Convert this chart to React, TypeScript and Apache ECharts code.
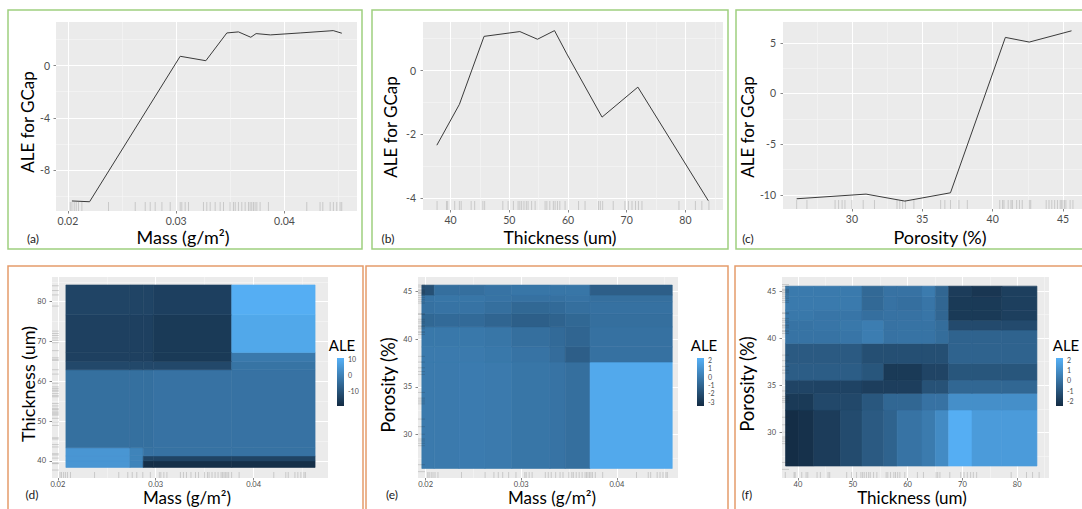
import React, { useEffect, useRef } from "react";
import * as echarts from "echarts";

const FONT = "Lato";
const LOW = "#132B43";
const HIGH = "#56B1F7";
const GREEN = "#9fd07f";
const ORANGE = "#e59c6b";

// ---------- (a) ALE for GCap vs Mass ----------
const massLineX = [0.02037, 0.0220, 0.03037, 0.03274, 0.03468, 0.03575, 0.03689, 0.03738, 0.0387, 0.04145, 0.0442, 0.0445, 0.0453];
const massLineY = [-10.38, -10.44, 0.72, 0.38, 2.51, 2.59, 2.18, 2.46, 2.36, 2.51, 2.67, 2.69, 2.49];
// ---------- (b) ALE for GCap vs Thickness ----------
const thickLineX = [37.66, 41.5, 45.7, 51.8, 54.8, 57.7, 59.8, 65.8, 71.9, 83.9];
const thickLineY = [-2.34, -1.06, 1.07, 1.22, 0.98, 1.25, 0.52, -1.46, -0.52, -4.08];
// ---------- (c) ALE for GCap vs Porosity ----------
const poroLineX = [26.07, 31.0, 33.76, 37.0, 40.9, 42.6, 45.6];
const poroLineY = [-10.39, -9.93, -10.62, -9.8, 5.53, 5.07, 6.18];

// ---------- rug (observed sample values) ----------
const massRug = [0.02022, 0.02037, 0.02058, 0.02077, 0.02098, 0.02129, 0.02375, 0.02622, 0.02714, 0.0276, 0.02806, 0.02868, 0.02945, 0.03037, 0.03052, 0.03083, 0.03114, 0.03252, 0.03283, 0.03314, 0.0336, 0.03406, 0.03437, 0.03498, 0.03529, 0.03545, 0.03575, 0.03606, 0.03637, 0.03668, 0.03683, 0.03698, 0.03714, 0.03729, 0.03745, 0.03775, 0.03852, 0.04206, 0.04329, 0.04354, 0.04422, 0.04452, 0.04483, 0.04514, 0.04529];
const thickRug = [37.7, 39.3, 39.5, 40.7, 41.5, 41.8, 43.5, 44.1, 45.5, 45.8, 48.9, 49.8, 50.7, 51.5, 51.8, 52.1, 52.5, 52.9, 53.2, 53.8, 54.4, 56.1, 56.4, 56.9, 57.5, 57.8, 58.2, 58.6, 59.5, 61.8, 62.9, 65.2, 65.5, 65.9, 67.7, 69.7, 70.3, 70.9, 71.5, 72.0, 72.6, 78.9, 81.7, 82.8, 84.0];
const poroRug = [26.07, 26.8, 28.8, 29.05, 29.3, 29.5, 30.0, 30.8, 31.6, 33.2, 33.4, 33.6, 33.8, 34.4, 36.3, 36.6, 37.0, 37.6, 38.2, 40.5, 40.7, 40.8, 41.1, 41.3, 41.4, 41.7, 41.9, 42.1, 42.6, 42.7, 43.8, 44.0, 44.2, 44.4, 44.6, 44.8, 44.9, 45.0, 45.1, 45.2, 45.5, 45.7];

// ---------- (d) 2D ALE: Mass x Thickness ----------
const dMassEdges = [0.02082, 0.02736, 0.02872, 0.02975, 0.03776, 0.04628];
const dThickEdges = [38.35, 40, 41.25, 43.3, 62.9, 65, 67.25, 76.7, 84.2];
const dAle = [
  [4.6, 0.4, -18.6, -18.6, -18.6],
  [4.6, 0.4, -13.8, -13.8, -13.8],
  [4.6, 0.4, -3.5, -3.5, -3.5],
  [-4.1, -4.1, -4.1, -3.5, -3.5],
  [-12.9, -12.9, -12.9, -12.9, -3.2],
  [-14.7, -14.7, -14.7, -16.2, -2.0],
  [-14.7, -14.7, -14.7, -16.2, 8.5],
  [-13.8, -13.8, -13.8, -14.9, 10.0],
];
// ---------- (e) 2D ALE: Mass x Porosity ----------
const eMassEdges = [0.0196, 0.0209, 0.0235, 0.0262, 0.029, 0.033, 0.0346, 0.0372, 0.0458];
const ePoroEdges = [26.4, 37.6, 39.2, 41.3, 42.7, 43.95, 44.65, 45.7];
const eAle = [
  [-0.1, -0.1, -0.05, -0.1, -0.3, -0.4, -0.6, 1.9],
  [-0.1, -0.1, -0.1, -0.2, -0.4, -0.7, -1.3, -0.5],
  [-0.2, -0.2, -0.2, -0.3, -0.6, -0.8, -1.0, -0.5],
  [-0.9, -0.8, -0.8, -1.0, -1.25, -1.1, -0.9, -0.6],
  [-0.5, -0.4, -0.4, -0.6, -0.9, -0.8, -0.6, -0.5],
  [-0.4, -0.3, -0.3, -0.4, -0.5, -0.5, -0.4, -0.6],
  [-1.9, -0.6, -0.6, -0.4, -0.3, -0.3, -0.3, -1.3],
];
// ---------- (f) 2D ALE: Thickness x Porosity ----------
const fThickEdges = [37.74, 40.18, 42.9, 47.77, 51.7, 55.66, 58.09, 62.64, 65.07, 67.5, 71.75, 77.2, 83.6];
const fPoroEdges = [26.42, 32.37, 34.14, 35.55, 37.32, 39.45, 40.86, 41.92, 42.98, 44.4, 45.53];
const fAle = [
  [-2.43, -2.3, -1.9, -1.38, -0.85, -0.54, 0.03, 0.3, 0.86, 2.1, 1.43, 1.43],
  [-1.98, -1.98, -1.48, -1.48, -0.96, -0.4, -0.4, 0.0, 0.0, 1.0, 1.0, 1.0],
  [-1.62, -1.62, -1.65, -1.65, -1.83, -1.83, -1.83, -1.13, -1.13, -0.4, -0.4, -0.4],
  [-0.75, -0.75, -0.75, -0.75, -1.0, -1.98, -1.98, -1.62, -1.62, -1.0, -1.0, -1.0],
  [-0.85, -0.85, -0.85, -0.85, -1.24, -1.24, -1.24, -1.24, -1.24, -0.54, -0.54, -0.54],
  [0.03, 0.03, 0.03, 0.1, 0.37, 0.0, 0.03, 0.03, -0.2, -0.54, -0.54, -0.54],
  [0.03, 0.03, 0.1, 0.2, 0.37, 0.0, 0.03, 0.03, -0.2, -1.41, -1.41, -1.41],
  [0.2, 0.2, 0.1, 0.1, -0.1, 0.0, 0.0, 0.1, -0.43, -1.98, -1.98, -1.8],
  [0.27, 0.27, 0.27, 0.27, -0.33, 0.0, -0.1, 0.1, -0.43, -1.98, -1.98, -1.8],
  [0.27, 0.27, 0.27, 0.27, -0.33, 0.0, 0.0, 0.3, -0.43, -1.9, -2.1, -1.8],
];

// ---------- ticks ----------
const massTicks = [0.02, 0.03, 0.04];
const massMinor = [0.025, 0.035, 0.045];
const thickTicks = [40, 50, 60, 70, 80];
const thickMinor = [45, 55, 65, 75, 85];
const poroTicks = [30, 35, 40, 45];
const poroMinor = [27.5, 32.5, 37.5, 42.5];
const aleATicks = [-8, -4, 0];
const aleAMinor = [-10, -6, -2, 2];
const aleBTicks = [-4, -2, 0];
const aleBMinor = [-3, -1, 1];
const aleCTicks = [-10, -5, 0, 5];
const aleCMinor = [-7.5, -2.5, 2.5];
const legDTicks = [-10, 0, 10];
const legETicks = [-3, -2, -1, 0, 1, 2];
const legFTicks = [-2, -1, 0, 1, 2];
const legDRange = [-19.5, 10.6];
const legERange = [-3.5, 2.25];
const legFRange = [-2.5, 2.2];

// ---------- titles ----------
const T_MASS = "Mass (g/m²)";
const T_THICK = "Thickness (um)";
const T_PORO = "Porosity (%)";
const T_ALE = "ALE for GCap";
const T_LEG = "ALE";
const panelTags = ["(a)", "(b)", "(c)", "(d)", "(e)", "(f)"];

const zip = (xs: number[], ys: number[]) => xs.map((x, i) => [x, ys[i]]);
const cells = (xe: number[], ye: number[], vals: number[][]) => {
  const out: number[][] = [];
  for (let r = 0; r < ye.length - 1; r++)
    for (let c = 0; c < xe.length - 1; c++) out.push([xe[c], xe[c + 1], ye[r], ye[r + 1], vals[r][c]]);
  return out;
};
const fmtMass = (v: number) => v.toFixed(2);
const fmtNum = (v: number) => String(v);

type AxSpec = {
  grid: number; min: number; max: number; major: number[]; minor: number[];
  fmt: (v: number) => string; font: number; margin: number;
};

function makeAxes(s: AxSpec, dir: "x" | "y") {
  const main = dir === "x" ? "bottom" : "left";
  const other = dir === "x" ? "top" : "right";
  return [
    {
      type: "value", gridIndex: s.grid, min: s.min, max: s.max, position: main,
      axisLine: { show: false, onZero: false },
      axisTick: { show: true, customValues: s.major, length: 2.5, lineStyle: { color: "#555", width: 0.7 } },
      axisLabel: { show: true, customValues: s.major, formatter: s.fmt, fontSize: s.font, color: "#4d4d4d", margin: s.margin, fontFamily: FONT },
      splitLine: { show: true, lineStyle: { color: "#ffffff", width: 1.1 } },
    },
    {
      type: "value", gridIndex: s.grid, min: s.min, max: s.max, position: other,
      axisLine: { show: false, onZero: false },
      axisTick: { show: false, customValues: s.minor },
      axisLabel: { show: false, customValues: s.minor },
      splitLine: { show: true, lineStyle: { color: "#f7f7f7", width: 0.6 } },
    },
  ];
}

const heatRender = (params: any, api: any) => {
  const p0 = api.coord([api.value(0), api.value(2)]);
  const p1 = api.coord([api.value(1), api.value(3)]);
  const color = api.visual("color");
  return {
    type: "rect",
    shape: { x: p0[0], y: p1[1], width: p1[0] - p0[0], height: p0[1] - p1[1] },
    style: { fill: color, stroke: color, lineWidth: 0.6 },
  };
};
const rugXRender = (len: number) => (params: any, api: any) => {
  const cs = params.coordSys;
  const x = api.coord([api.value(0), api.value(1)])[0];
  const yb = cs.y + cs.height;
  return { type: "line", shape: { x1: x, y1: yb, x2: x, y2: yb - len }, style: { stroke: "rgba(40,40,40,0.25)", lineWidth: 0.7 } };
};
const rugYRender = (len: number) => (params: any, api: any) => {
  const cs = params.coordSys;
  const y = api.coord([api.value(0), api.value(1)])[1];
  return { type: "line", shape: { x1: cs.x, y1: y, x2: cs.x + len, y2: y }, style: { stroke: "rgba(40,40,40,0.25)", lineWidth: 0.7 } };
};
const barRender = (params: any) => {
  const cs = params.coordSys;
  return {
    type: "rect",
    shape: { x: cs.x, y: cs.y, width: cs.width, height: cs.height },
    style: { fill: new echarts.graphic.LinearGradient(0, 0, 0, 1, [{ offset: 0, color: HIGH }, { offset: 1, color: LOW }]) },
  };
};

function buildOption() {
  const gridBase = { show: true, backgroundColor: "#EBEBEB", borderWidth: 0, containLabel: false, outerBoundsMode: "none" };
  const grids = [
    { ...gridBase, left: 56, top: 22, width: 301, height: 189 },
    { ...gridBase, left: 423, top: 22, width: 300, height: 188 },
    { ...gridBase, left: 783, top: 22, width: 304, height: 187 },
    { ...gridBase, left: 52, top: 277, width: 276, height: 201 },
    { ...gridBase, left: 418, top: 277, width: 260, height: 201 },
    { ...gridBase, left: 782, top: 277, width: 267, height: 201 },
    { show: false, left: 337, top: 358, width: 7, height: 48, containLabel: false, outerBoundsMode: "none" },
    { show: false, left: 697, top: 358, width: 7, height: 48, containLabel: false, outerBoundsMode: "none" },
    { show: false, left: 1056, top: 358, width: 7, height: 48, containLabel: false, outerBoundsMode: "none" },
  ];

  const xSpecs: AxSpec[] = [
    { grid: 0, min: 0.0189, max: 0.0467, major: massTicks, minor: massMinor, fmt: fmtMass, font: 10.5, margin: 4 },
    { grid: 1, min: 35.3, max: 86.4, major: thickTicks, minor: thickMinor, fmt: fmtNum, font: 10.5, margin: 4 },
    { grid: 2, min: 25.1, max: 46.7, major: poroTicks, minor: poroMinor, fmt: fmtNum, font: 10.5, margin: 4 },
    { grid: 3, min: 0.0194, max: 0.0476, major: massTicks, minor: massMinor, fmt: fmtMass, font: 7.5, margin: 2 },
    { grid: 4, min: 0.0192, max: 0.0464, major: massTicks, minor: massMinor, fmt: fmtMass, font: 7.5, margin: 2 },
    { grid: 5, min: 37.1, max: 85.8, major: thickTicks, minor: thickMinor, fmt: fmtNum, font: 7.5, margin: 2 },
  ];
  const ySpecs: AxSpec[] = [
    { grid: 0, min: -11.15, max: 3.35, major: aleATicks, minor: aleAMinor, fmt: fmtNum, font: 10.5, margin: 6 },
    { grid: 1, min: -4.37, max: 1.52, major: aleBTicks, minor: aleBMinor, fmt: fmtNum, font: 10.5, margin: 7 },
    { grid: 2, min: -11.4, max: 7.05, major: aleCTicks, minor: aleCMinor, fmt: fmtNum, font: 10.5, margin: 7 },
    { grid: 3, min: 35.7, max: 86.2, major: thickTicks, minor: thickMinor, fmt: fmtNum, font: 7.5, margin: 6 },
    { grid: 4, min: 25.4, max: 46.55, major: poroTicks, minor: poroMinor, fmt: fmtNum, font: 7.5, margin: 6 },
    { grid: 5, min: 25.15, max: 46.5, major: poroTicks, minor: poroMinor, fmt: fmtNum, font: 7.5, margin: 6 },
  ];

  const xAxis: any[] = [];
  const yAxis: any[] = [];
  xSpecs.forEach((s) => xAxis.push(...makeAxes(s, "x")));
  ySpecs.forEach((s) => yAxis.push(...makeAxes(s, "y")));

  const legs = [
    { grid: 6, range: legDRange, ticks: legDTicks },
    { grid: 7, range: legERange, ticks: legETicks },
    { grid: 8, range: legFRange, ticks: legFTicks },
  ];
  legs.forEach((l) => {
    xAxis.push({ type: "value", gridIndex: l.grid, min: 0, max: 1, show: false });
    yAxis.push({
      type: "value", gridIndex: l.grid, min: l.range[0], max: l.range[1], position: "right",
      axisLine: { show: false, onZero: false }, splitLine: { show: false },
      axisTick: { show: false, customValues: l.ticks },
      axisLabel: { show: true, customValues: l.ticks, formatter: fmtNum, fontSize: 7, color: "#4d4d4d", margin: 4, fontFamily: FONT },
    });
  });

  const series: any[] = [];
  // rugs on line panels (0-2)
  series.push({ type: "custom", xAxisIndex: 0, yAxisIndex: 0, data: massRug.map((v) => [v, 0]), encode: { x: 0, y: 1 }, renderItem: rugXRender(9) });
  series.push({ type: "custom", xAxisIndex: 2, yAxisIndex: 2, data: thickRug.map((v) => [v, 0]), encode: { x: 0, y: 1 }, renderItem: rugXRender(9) });
  series.push({ type: "custom", xAxisIndex: 4, yAxisIndex: 4, data: poroRug.map((v) => [v, 0]), encode: { x: 0, y: 1 }, renderItem: rugXRender(9) });
  // lines (3-5)
  const lineStyle = { color: "#3a3a3a", width: 1 };
  series.push({ type: "line", xAxisIndex: 0, yAxisIndex: 0, data: zip(massLineX, massLineY), showSymbol: false, symbol: "none", lineStyle });
  series.push({ type: "line", xAxisIndex: 2, yAxisIndex: 2, data: zip(thickLineX, thickLineY), showSymbol: false, symbol: "none", lineStyle });
  series.push({ type: "line", xAxisIndex: 4, yAxisIndex: 4, data: zip(poroLineX, poroLineY), showSymbol: false, symbol: "none", lineStyle });
  // heatmaps (6-8)
  series.push({ type: "custom", xAxisIndex: 6, yAxisIndex: 6, data: cells(dMassEdges, dThickEdges, dAle), encode: { x: [0, 1], y: [2, 3] }, renderItem: heatRender });
  series.push({ type: "custom", xAxisIndex: 8, yAxisIndex: 8, data: cells(eMassEdges, ePoroEdges, eAle), encode: { x: [0, 1], y: [2, 3] }, renderItem: heatRender });
  series.push({ type: "custom", xAxisIndex: 10, yAxisIndex: 10, data: cells(fThickEdges, fPoroEdges, fAle), encode: { x: [0, 1], y: [2, 3] }, renderItem: heatRender });
  // heatmap rugs (9-14)
  series.push({ type: "custom", xAxisIndex: 6, yAxisIndex: 6, data: massRug.map((v) => [v, 60]), encode: { x: 0, y: 1 }, renderItem: rugXRender(6) });
  series.push({ type: "custom", xAxisIndex: 6, yAxisIndex: 6, data: thickRug.map((v) => [0.03, v]), encode: { x: 0, y: 1 }, renderItem: rugYRender(7) });
  series.push({ type: "custom", xAxisIndex: 8, yAxisIndex: 8, data: massRug.map((v) => [v, 35]), encode: { x: 0, y: 1 }, renderItem: rugXRender(6) });
  series.push({ type: "custom", xAxisIndex: 8, yAxisIndex: 8, data: poroRug.map((v) => [0.03, v]), encode: { x: 0, y: 1 }, renderItem: rugYRender(7) });
  series.push({ type: "custom", xAxisIndex: 10, yAxisIndex: 10, data: thickRug.map((v) => [v, 35]), encode: { x: 0, y: 1 }, renderItem: rugXRender(6) });
  series.push({ type: "custom", xAxisIndex: 10, yAxisIndex: 10, data: poroRug.map((v) => [60, v]), encode: { x: 0, y: 1 }, renderItem: rugYRender(7) });
  // colour bars (15-17)
  series.push({ type: "custom", xAxisIndex: 12, yAxisIndex: 12, data: [[0.5, 0]], renderItem: barRender });
  series.push({ type: "custom", xAxisIndex: 13, yAxisIndex: 13, data: [[0.5, 0]], renderItem: barRender });
  series.push({ type: "custom", xAxisIndex: 14, yAxisIndex: 14, data: [[0.5, 0]], renderItem: barRender });

  const visualMap = [
    { type: "continuous", show: false, seriesIndex: 6, dimension: 4, min: legDRange[0], max: legDRange[1], inRange: { color: [LOW, HIGH] } },
    { type: "continuous", show: false, seriesIndex: 7, dimension: 4, min: legERange[0], max: legERange[1], inRange: { color: [LOW, HIGH] } },
    { type: "continuous", show: false, seriesIndex: 8, dimension: 4, min: legFRange[0], max: legFRange[1], inRange: { color: [LOW, HIGH] } },
  ];

  const border = (x: number, y: number, w: number, h: number, c: string) => ({
    type: "rect", silent: true, z: 100, shape: { x, y, width: w, height: h }, style: { fill: "none", stroke: c, lineWidth: 1.5 },
  });
  const label = (x: number, y: number, t: string, size: number, rot = 0, color = "#1a1a1a") => ({
    type: "text", silent: true, z: 100, x, y, rotation: rot,
    style: { text: t, fontSize: size, fill: color, fontFamily: FONT, align: "center", verticalAlign: "middle" },
  });
  const R = Math.PI / 2;
  const graphic = [
    border(8, 10, 354, 239, GREEN),
    border(372, 10, 356, 239, GREEN),
    border(736, 10, 360, 239, GREEN),
    border(8, 266, 355, 252, ORANGE),
    border(366, 266, 362, 252, ORANGE),
    border(735, 266, 360, 252, ORANGE),
    label(33, 238, panelTags[0], 12),
    label(388, 238, panelTags[1], 12),
    label(748, 238, panelTags[2], 12),
    label(32, 494, panelTags[3], 12),
    label(392, 494, panelTags[4], 12),
    label(747, 494, panelTags[5], 12),
    // axis titles
    label(183, 237, T_MASS, 18, 0, "#000"),
    label(27, 122, T_ALE, 17, R, "#000"),
    label(560, 237, T_THICK, 17.5, 0, "#000"),
    label(390, 127, T_ALE, 17, R, "#000"),
    label(940, 237, T_PORO, 18, 0, "#000"),
    label(747, 127, T_ALE, 17, R, "#000"),
    label(187, 497, T_MASS, 17, 0, "#000"),
    label(28, 384, T_THICK, 18, R, "#000"),
    label(552, 497, T_MASS, 17, 0, "#000"),
    label(388, 385, T_PORO, 18.5, R, "#000"),
    label(912, 497, T_THICK, 17, 0, "#000"),
    label(747, 384, T_PORO, 18.5, R, "#000"),
    // legend titles
    label(342, 345, T_LEG, 15, 0, "#000"),
    label(704, 345, T_LEG, 15, 0, "#000"),
    label(1066, 345, T_LEG, 15, 0, "#000"),
  ];

  return { animation: false, textStyle: { fontFamily: FONT }, grid: grids, xAxis, yAxis, visualMap, series, graphic };
}

export default function App() {
  const ref = useRef<HTMLDivElement>(null);
  useEffect(() => {
    if (!ref.current) return;
    const chart = echarts.init(ref.current, undefined, { renderer: "svg" });
    chart.setOption(buildOption() as any);
    return () => chart.dispose();
  }, []);
  return (
    <div
      ref={ref}
      style={{ position: "fixed", left: 0, top: 0, width: 1082, height: 509, background: "#ffffff" }}
    />
  );
}
